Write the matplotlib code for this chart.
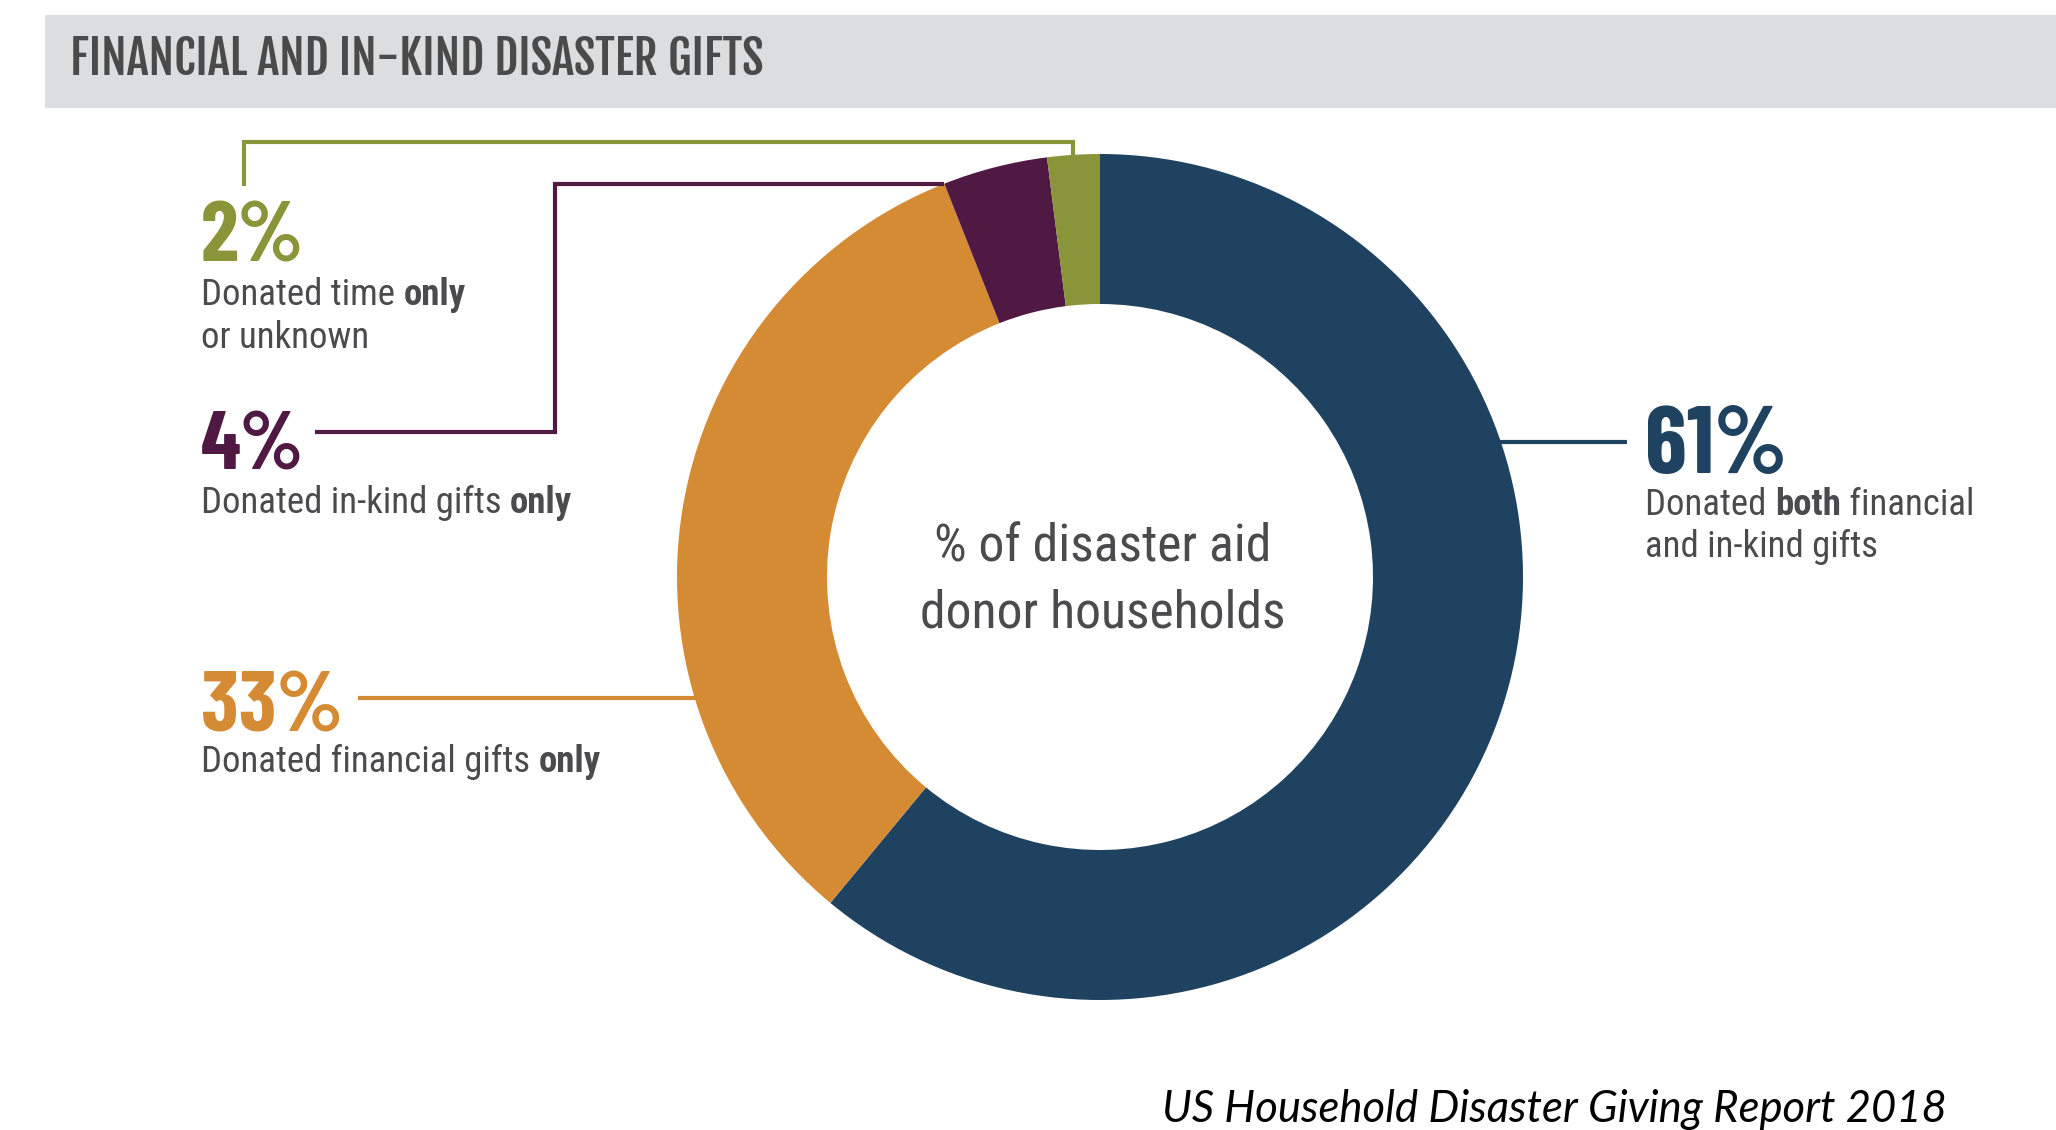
import numpy as np
import matplotlib.pyplot as plt
from matplotlib.patches import Rectangle
from matplotlib import font_manager

# data
categories = ["both", "financial", "inkind", "time"]
shares     = [61, 33, 4, 2]
pct_labels = ["61%", "33%", "4%", "2%"]
colors     = ["#1e425f", "#d58b33", "#4f1944", "#8a9438"]
title      = "FINANCIAL AND IN-KIND DISASTER GIFTS"
center_txt = ["% of disaster aid", "donor households"]
source     = "US Household Disaster Giving Report 2018"

names = set(f.name for f in font_manager.fontManager.ttflist)

def pick(*fams):
    for f in fams:
        if f in names:
            return f
    return "DejaVu Sans"

body_font  = pick("Roboto Condensed", "Barlow Semi Condensed", "Archivo Narrow", "Asap Condensed")
num_font   = pick("Barlow Condensed", "Roboto Condensed")
title_font = pick("Fjalla One", "Roboto Condensed", "Barlow Condensed")
src_font   = pick("Lato", "Open Sans")
txtgray = "#4b4b4d"

W, H = 2056, 1130
fig = plt.figure(figsize=(W / 100, H / 100), dpi=100)
ax = fig.add_axes([0, 0, 1, 1])
fig.canvas.draw()
rend = fig.canvas.get_renderer()

def Y(y):  # image row -> data y
    return H - y

def wid(t):
    return t.get_window_extent(renderer=rend).width

def line(x, y, chunks, color, size, family, target=None, ha="left", **kw):
    """chunks: list of (text, weight). Fit to target width if given."""
    ts = [ax.text(x, Y(y), s, fontsize=size, fontweight=w, family=family,
                  color=color, va="baseline", ha="left", **kw) for s, w in chunks]
    tot = sum(wid(t) for t in ts)
    if target:
        for t in ts:
            t.set_fontsize(size * target / tot)
        tot = sum(wid(t) for t in ts)
    xx = x - tot / 2 if ha == "center" else x
    for t in ts:
        t.set_x(xx)
        xx += wid(t)
    return ts[0].get_fontsize()

# donut
cx, cy, R, ring = 1100, Y(577), 423, 150
ax.pie(shares, colors=colors, center=(cx, cy), radius=R, startangle=90,
       counterclock=False, wedgeprops=dict(width=ring, lw=0), frame=True)
ax.set_xlim(0, W)
ax.set_ylim(0, H)
ax.set_aspect("equal")
ax.axis("off")

# header band
ax.add_patch(Rectangle((45, Y(108)), W - 45, 93, color="#dcddde", lw=0))
line(70, 75, [(title, "bold")], "#4a4a4a", 30, title_font, target=693)

# wedge angles (deg, math convention) from shares
edges = 90 - 360 * np.cumsum([0] + shares) / sum(shares)

def on_ring(ang):
    a = np.deg2rad(ang)
    return cx + R * np.cos(a), cy + R * np.sin(a)

def x_on_ring(y, side):
    return cx + side * np.sqrt(R ** 2 - (y - cy) ** 2)

lw = 3
# 61% (right)
yb = Y(442)
ax.plot([x_on_ring(yb, 1) - 4, 1627], [yb, yb], color=colors[0], lw=lw, solid_capstyle="butt")
# 33% (left)
yo = Y(698)
ax.plot([358, x_on_ring(yo, -1) + 4], [yo, yo], color=colors[1], lw=lw, solid_capstyle="butt")
# 4% (elbow to purple/orange corner)
px, py = on_ring(edges[2])
ax.plot([315, 555, 555, px], [Y(432), Y(432), py, py], color=colors[2], lw=lw,
        solid_joinstyle="miter", solid_capstyle="butt")
# 2% (elbow to green mid)
gx, gy = on_ring((edges[3] + edges[4]) / 2)
ax.plot([244, 244, gx, gx], [Y(186), Y(142), Y(142), gy - 2], color=colors[3], lw=lw,
        solid_joinstyle="miter", solid_capstyle="butt")

# labels: big percentage + description lines
line(201, 262, [(pct_labels[3], "bold")], colors[3], 64, num_font, target=103)
fs = line(201, 305, [("Donated time ", "normal"), ("only", "bold")], txtgray, 22, body_font, target=264)
line(201, 348, [("or unknown", "normal")], txtgray, fs, body_font)

line(201, 470, [(pct_labels[2], "bold")], colors[2], 64, num_font, target=103)
line(201, 513, [("Donated in-kind gifts ", "normal"), ("only", "bold")], txtgray, fs, body_font)

line(201, 732, [(pct_labels[1], "bold")], colors[1], 64, num_font, target=142)
line(201, 772, [("Donated financial gifts ", "normal"), ("only", "bold")], txtgray, fs, body_font)

line(1645, 473, [(pct_labels[0], "bold")], colors[0], 64, num_font, target=142)
line(1645, 515, [("Donated ", "normal"), ("both", "bold"), (" financial", "normal")],
     txtgray, fs, body_font)
line(1645, 557, [("and in-kind gifts", "normal")], txtgray, fs, body_font)

# center text
fc = line(1103, 562, [(center_txt[0], "normal")], txtgray, 34, body_font, target=337, ha="center")
line(1103, 627, [(center_txt[1], "normal")], txtgray, fc, body_font, ha="center")

# source
line(1162, 1122, [(source, "normal")], "black", 30, src_font, target=785, style="italic")

fig.savefig("out.png", dpi=100, facecolor="white")
